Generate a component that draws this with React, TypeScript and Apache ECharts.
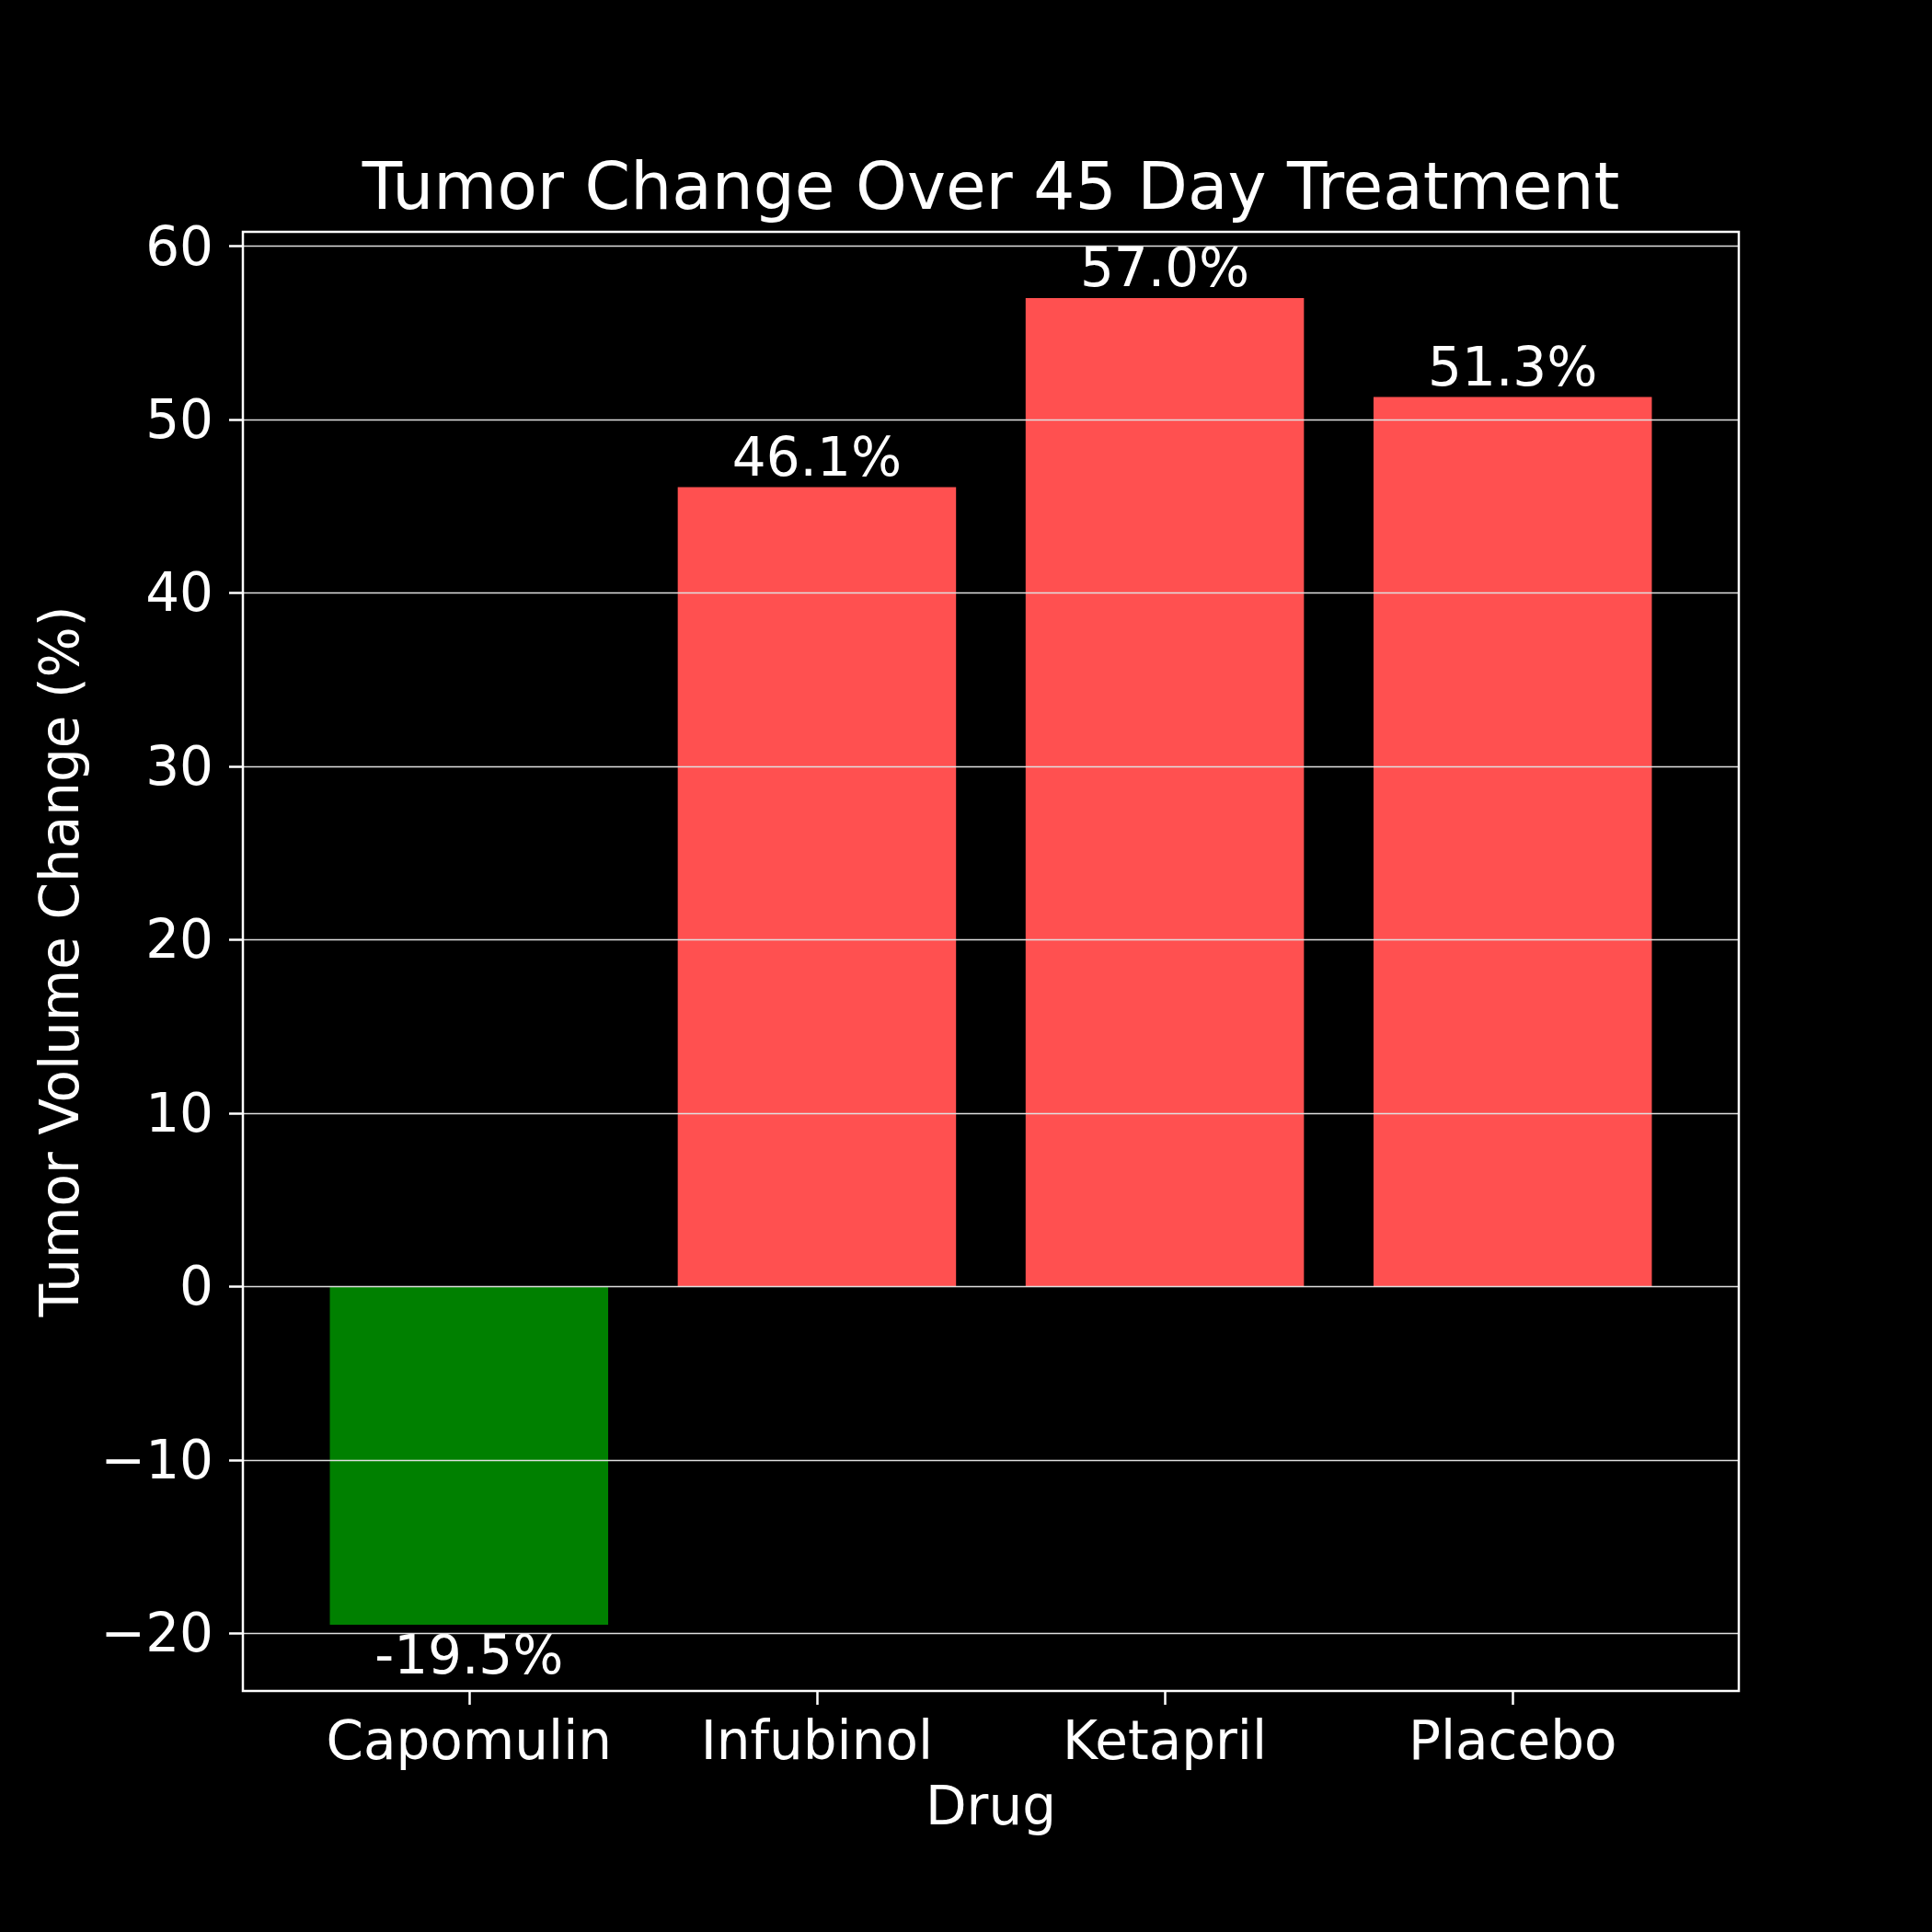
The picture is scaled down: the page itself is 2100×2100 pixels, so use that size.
import React, { useEffect, useRef } from "react";
import * as echarts from "echarts";

const drugs = ["Capomulin", "Infubinol", "Ketapril", "Placebo"];
const tumorChange = [-19.5, 46.1, 57.0, 51.3];
const yTickValues = [-20, -10, 0, 10, 20, 30, 40, 50, 60];
const xTickValues = [0, 1, 2, 3];

const FONT = "DejaVu Sans";
const RED = "#ff5050";
const GREEN = "#008000";

const GRID_LEFT = 264;
const GRID_TOP = 252;
const GRID_W = 1626;
const GRID_H = 1586;
const X_MIN = -0.65;
const X_MAX = 3.65;
const Y_MIN = -23.325;
const Y_MAX = 60.825;

function fmtTick(v: number): string {
  return v < 0 ? "\u2212" + Math.abs(v) : String(v);
}

export default function App() {
  const ref = useRef<HTMLDivElement>(null);
  useEffect(() => {
    if (!ref.current) return;
    const chart = echarts.init(ref.current, undefined, { renderer: "svg" });
    const barWidth = (GRID_W / (X_MAX - X_MIN)) * 0.8;
    chart.setOption({
      animation: false,
      backgroundColor: "#000",
      title: {
        text: "Tumor Change Over 45 Day Treatment",
        left: GRID_LEFT + GRID_W / 2,
        top: 167,
        textAlign: "center",
        padding: 0,
        textStyle: { color: "#fff", fontSize: 71, fontWeight: "normal", fontFamily: FONT },
      },
      grid: {
        left: GRID_LEFT,
        top: GRID_TOP,
        width: GRID_W,
        height: GRID_H,
        show: true,
        borderColor: "#fff",
        borderWidth: 2.5,
        backgroundColor: "transparent",
        z: 6,
      },
      xAxis: {
        type: "value",
        min: X_MIN,
        max: X_MAX,
        name: "Drug",
        nameLocation: "middle",
        nameGap: 96,
        nameTextStyle: { color: "#fff", fontSize: 58, fontFamily: FONT },
        axisLine: { show: false, onZero: false },
        splitLine: { show: false },
        axisTick: {
          show: true,
          length: 15,
          customValues: xTickValues,
          lineStyle: { color: "#fff", width: 2.5 },
        },
        axisLabel: {
          customValues: xTickValues,
          margin: 25,
          color: "#fff",
          fontSize: 58,
          fontFamily: FONT,
          formatter: (v: number) => drugs[Math.round(v)] ?? "",
        },
      },
      yAxis: {
        type: "value",
        min: Y_MIN,
        max: Y_MAX,
        minInterval: 10,
        maxInterval: 10,
        z: 5,
        name: "Tumor Volume Change (%)",
        nameLocation: "middle",
        nameGap: 170,
        nameTextStyle: { color: "#fff", fontSize: 58, fontFamily: FONT },
        axisLine: { show: false, onZero: false },
        axisTick: {
          show: true,
          length: 15,
          customValues: yTickValues,
          lineStyle: { color: "#fff", width: 2.5 },
        },
        axisLabel: {
          customValues: yTickValues,
          margin: 32,
          color: "#fff",
          fontSize: 58,
          fontFamily: FONT,
          formatter: (v: number) => fmtTick(v),
        },
        splitLine: {
          show: true,
          lineStyle: { color: "#e0e0e0", width: 1.3 },
        },
      },
      series: [
        {
          type: "bar",
          barWidth,
          data: tumorChange.map((v, i) => ({
            value: [i, v],
            itemStyle: { color: v < 0 ? GREEN : RED },
          })),
          label: {
            show: true,
            position: "outside",
            distance: 4,
            color: "#fff",
            fontSize: 58,
            fontFamily: FONT,
            formatter: (p: any) => p.value[1].toFixed(1) + "%",
          },
        },
      ],
    });
    return () => chart.dispose();
  }, []);
  return (
    <div
      ref={ref}
      style={{ position: "absolute", left: 0, top: 0, width: 2100, height: 2100 }}
    />
  );
}
